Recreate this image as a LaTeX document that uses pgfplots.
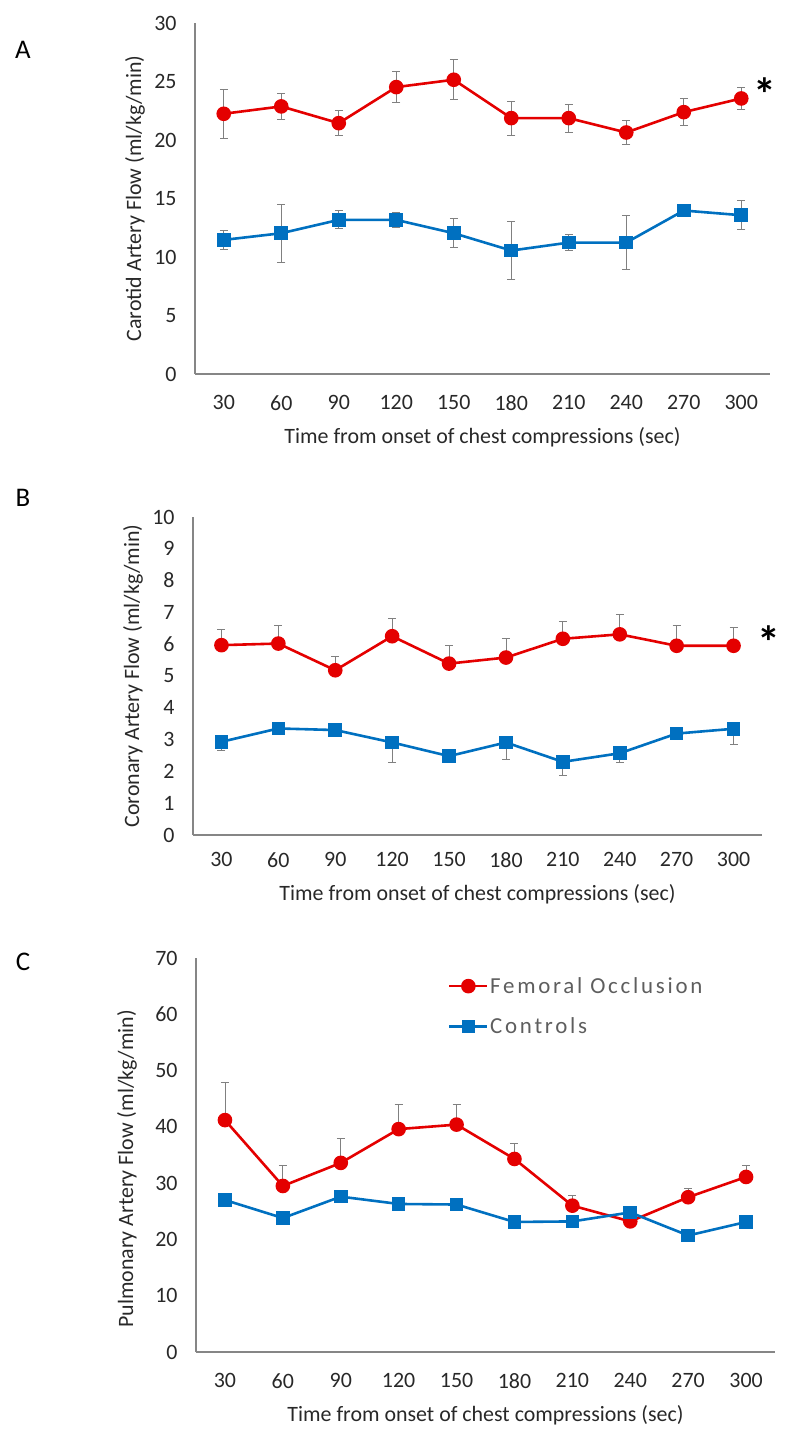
\documentclass[border=0pt]{standalone}
\usepackage{pgfplots}
\pgfplotsset{compat=1.18}
\usepackage{fontspec}
\setmainfont{Carlito}
\newfontfamily\legfont[LetterSpace=12]{Carlito}
\definecolor{fred}{RGB}{228,0,0}
\definecolor{cblue}{RGB}{0,112,192}
\definecolor{axgray}{RGB}{134,134,134}
\definecolor{ebgray}{RGB}{128,128,128}
\definecolor{txt}{RGB}{40,40,40}
\pgfplotsset{
  panel/.style={
    scale only axis,
    anchor=south west,
    axis x line=bottom, axis y line=left,
    axis line style={-, draw=axgray, line width=1.2bp},
    xmin=0.5, xmax=10.5,
    xtick={1,...,10},
    xticklabels={30,60,90,120,150,180,210,240,270,300},
    major tick length=0,
    tick style={draw=none},
    /pgf/number format/assume math mode=true,
    tick label style={font=\fontsize{22}{24}\selectfont, text=txt},
    xticklabel style={yshift=-18bp},
    yticklabel style={xshift=-15bp},
    label style={font=\fontsize{22}{24}\selectfont, text=txt},
    x label style={at={(axis description cs:0.5,0)}, anchor=center, yshift=-63bp},
    y label style={at={(axis description cs:0,0.5)}, anchor=center},
    xlabel={Time from onset of chest compressions (sec)},
    clip=false,
  },
  fo/.style={color=fred, line width=2.6bp, mark=*, mark size=6bp, mark options={solid, fill=fred, draw=fred}},
  co/.style={color=cblue, line width=2.6bp, mark=square*, mark size=5.5bp, mark options={solid, fill=cblue, draw=cblue}},
  eb/.style={error bars/.cd, y explicit, y dir=#1,
    error bar style={draw=ebgray, line width=0.9bp},
    error mark options={rotate=90, draw=ebgray, mark size=4bp, line width=0.9bp}},
}
\begin{document}
\begin{tikzpicture}
\path[use as bounding box] (0,0) rectangle (789bp,1438bp);
\node[font=\fontsize{27}{27}\selectfont, text=black] at (23bp,1388bp) {A};
\node[font=\fontsize{27}{27}\selectfont, text=black] at (23bp,940bp) {B};
\node[font=\fontsize{27}{27}\selectfont, text=black] at (23bp,476bp) {C};

% Panel A
\begin{axis}[panel, at={(195bp,1064bp)}, width=575bp, height=351bp,
  ymin=0, ymax=30, ytick={0,5,...,30},
  ylabel={Carotid Artery Flow (ml/kg/min)},
  y label style={yshift=60bp}]
\addplot[co, eb=both] coordinates {
 (1,11.46) +- (0,0.85) (2,12.03) +- (0,2.5) (3,13.17) +- (0,0.77) (4,13.17) +- (0,0.65)
 (5,12.03) +- (0,1.25) (6,10.55) +- (0,2.5) (7,11.23) +- (0,0.7) (8,11.23) +- (0,2.3)
 (9,13.97) +- (0,0.35) (10,13.57) +- (0,1.25)};
\addplot[fo, eb=both] coordinates {
 (1,22.24) +- (0,2.1) (2,22.87) +- (0,1.1) (3,21.44) +- (0,1.05) (4,24.52) +- (0,1.35)
 (5,25.15) +- (0,1.7) (6,21.87) +- (0,1.45) (7,21.87) +- (0,1.2) (8,20.64) +- (0,1.05)
 (9,22.38) +- (0,1.15) (10,23.55) +- (0,0.97)};
\node[font=\fontsize{46}{46}\selectfont\bfseries] at (axis cs:10.42,23.9) {*};
\end{axis}

% Panel B
\begin{axis}[panel, at={(193bp,603bp)}, width=569bp, height=318bp,
  ymin=0, ymax=10, ytick={0,1,...,10},
  ylabel={Coronary Artery Flow (ml/kg/min)},
  y label style={yshift=60bp},
  xticklabel style={yshift=4bp},
  x label style={yshift=4bp}]
\addplot[co, eb=minus] coordinates {
 (1,2.93) +- (0,0.28) (2,3.35) +- (0,0.2) (3,3.30) +- (0,0.12) (4,2.91) +- (0,0.63)
 (5,2.48) +- (0,0.1) (6,2.91) +- (0,0.53) (7,2.30) +- (0,0.44) (8,2.57) +- (0,0.29)
 (9,3.19) +- (0,0.15) (10,3.34) +- (0,0.5)};
\addplot[fo, eb=plus] coordinates {
 (1,5.97) +- (0,0.49) (2,6.02) +- (0,0.56) (3,5.18) +- (0,0.42) (4,6.25) +- (0,0.56)
 (5,5.39) +- (0,0.56) (6,5.58) +- (0,0.59) (7,6.17) +- (0,0.56) (8,6.31) +- (0,0.63)
 (9,5.95) +- (0,0.63) (10,5.95) +- (0,0.57)};
\node[font=\fontsize{46}{46}\selectfont\bfseries] at (axis cs:10.62,6.05) {*};
\end{axis}

% Panel C
\begin{axis}[panel, at={(196bp,86bp)}, width=579bp, height=394bp,
  ymin=0, ymax=70, ytick={0,10,...,70},
  ylabel={Pulmonary Artery Flow (ml/kg/min)},
  y label style={yshift=69bp, xshift=-14bp},
  legend style={at={(axis description cs:0.435,0.955)}, anchor=north west,
    draw=none, fill=none, font=\legfont\fontsize{23}{25}\selectfont, text=txt!75!white,
    row sep=20bp, inner sep=0pt, cells={anchor=west}, nodes={inner sep=1.5bp}},
  legend cell align=left,
  legend image code/.code={\draw[mark repeat=2, mark phase=2] plot coordinates {(0bp,0bp) (19bp,0bp) (38bp,0bp)};},
  ]
\addplot[fo, eb=plus] coordinates {
 (1,41.2) +- (0,6.7) (2,29.5) +- (0,3.7) (3,33.6) +- (0,4.4) (4,39.6) +- (0,4.3)
 (5,40.4) +- (0,3.5) (6,34.3) +- (0,2.7) (7,26.0) +- (0,1.9) (8,23.2) +- (0,0.5)
 (9,27.5) +- (0,1.6) (10,31.1) +- (0,2.1)};
\addlegendentry{Femoral Occlusion}
\addplot[co, eb=minus] coordinates {
 (1,27.0) +- (0,0.6) (2,23.8) +- (0,0.6) (3,27.6) +- (0,0.6) (4,26.3) +- (0,0.6)
 (5,26.2) +- (0,0.6) (6,23.1) +- (0,0.6) (7,23.2) +- (0,0.6) (8,24.8) +- (0,0.6)
 (9,20.7) +- (0,0.6) (10,23.1) +- (0,1.2)};
\addlegendentry{Controls}
\end{axis}
\end{tikzpicture}
\end{document}
